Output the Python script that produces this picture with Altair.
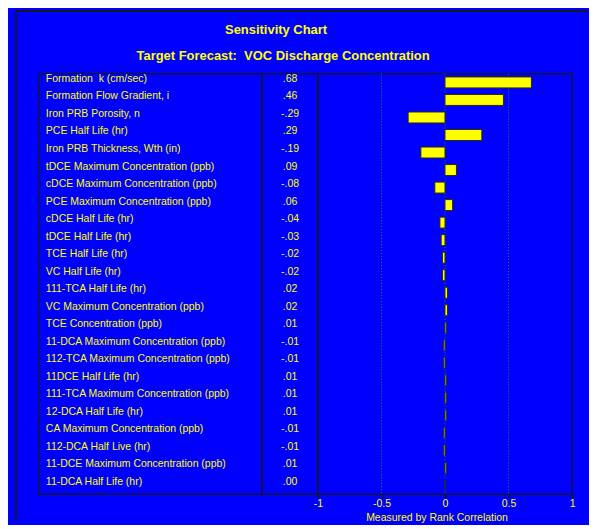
import altair as alt
import pandas as pd

FONT = "Liberation Sans, Arial, sans-serif"
YELLOW = "#FFFF00"
FRAME = "#15152a"
GREEN = "#1f8a2a"
BLUE = "#0000FF"
NB = "\u00a0"

title_text = "Sensitivity Chart"
subtitle_text = "Target Forecast:" + NB + " VOC Discharge Concentration"
x_title = "Measured by Rank Correlation"

labels = [
    "Formation" + NB + " k (cm/sec)",
    "Formation Flow Gradient, i",
    "Iron PRB Porosity, n",
    "PCE Half Life (hr)",
    "Iron PRB Thickness, Wth (in)",
    "tDCE Maximum Concentration (ppb)",
    "cDCE Maximum Concentration (ppb)",
    "PCE Maximum Concentration (ppb)",
    "cDCE Half Life (hr)",
    "tDCE Half Life (hr)",
    "TCE Half Life (hr)",
    "VC Half Life (hr)",
    "111-TCA Half Life (hr)",
    "VC Maximum Concentration (ppb)",
    "TCE Concentration (ppb)",
    "11-DCA Maximum Concentration (ppb)",
    "112-TCA Maximum Concentration (ppb)",
    "11DCE Half Life (hr)",
    "111-TCA Maximum Concentration (ppb)",
    "12-DCA Half Life (hr)",
    "CA Maximum Concentration (ppb)",
    "112-DCA Half Live (hr)",
    "11-DCE Maximum Concentration (ppb)",
    "11-DCA Half Life (hr)",
]
values = [0.68, 0.46, -0.29, 0.29, -0.19, 0.09, -0.08, 0.06, -0.04, -0.03,
          -0.02, -0.02, 0.02, 0.02, 0.01, -0.01, -0.01, 0.01, 0.01, 0.01,
          -0.01, -0.01, 0.01, 0.00]
tick_values = [-1, -0.5, 0, 0.5, 1]
grid_values = [-0.5, 0, 0.5]


def fmt(v):
    s = f"{v:.2f}"
    return s.replace("0.", ".", 1)


df = pd.DataFrame({"label": labels, "value": values,
                   "value_text": [fmt(v) for v in values]})

yenc = alt.Y("label:N", sort=labels,
             scale=alt.Scale(paddingInner=0, paddingOuter=0), axis=None)

one = pd.DataFrame({"k": [0]})

frame_v = alt.Chart(one).mark_rule(color=FRAME, strokeWidth=2).encode(
    x=alt.value(-23), y=alt.value(-63), y2=alt.value(449))
frame_h = alt.Chart(one).mark_rule(color=FRAME, strokeWidth=2).encode(
    x=alt.value(-23), x2=alt.value(550), y=alt.value(-63))

t1 = alt.Chart(pd.DataFrame({"t": [title_text]})).mark_text(
    font=FONT, fontSize=13, fontWeight="bold", color=YELLOW,
    align="center", baseline="alphabetic").encode(
    text="t:N", x=alt.value(238), y=alt.value(-39.5))
t2 = alt.Chart(pd.DataFrame({"t": [subtitle_text]})).mark_text(
    font=FONT, fontSize=13, fontWeight="bold", color=YELLOW,
    align="center", baseline="alphabetic").encode(
    text="t:N", x=alt.value(245), y=alt.value(-13.5))

label_text = alt.Chart(df).mark_text(
    font=FONT, fontSize=10.5, color=YELLOW, align="left",
    baseline="alphabetic", dy=-0.5).encode(
    y=yenc, x=alt.value(7), text="label:N")

label_panel = alt.layer(frame_v, frame_h, t1, t2, label_text).properties(
    width=224, height=422)

value_panel = alt.Chart(df).mark_text(
    font=FONT, fontSize=10.5, color=YELLOW, align="center",
    baseline="alphabetic", dy=-0.5).encode(
    y=yenc, x=alt.value(28), text="value_text:N").properties(
    width=56, height=422)

xscale = alt.Scale(domain=[-1, 1], nice=False, zero=False)
xaxis = alt.Axis(values=tick_values, labelExpr="'' + datum.value",
                 grid=False, domain=False, ticks=True, tickSize=4,
                 tickColor=FRAME, tickWidth=1.5,
                 labelColor=YELLOW, labelFont=FONT, labelFontSize=10.5,
                 labelPadding=0, labelFlush=False, labelOverlap=False,
                 title=x_title, titleColor=YELLOW, titleFont=FONT,
                 titleFontSize=10.5, titleFontWeight="normal",
                 titleX=119, titleY=26, titleAlign="center",
                 titleBaseline="alphabetic", titleAnchor="start")

grid = alt.Chart(pd.DataFrame({"g": grid_values})).mark_rule(
    color=GREEN, strokeDash=[1, 2], strokeWidth=1).encode(
    x=alt.X("g:Q", scale=xscale, axis=xaxis))

bars = alt.Chart(df).mark_bar(
    height=11, color=YELLOW, stroke="#2a2a10", strokeWidth=1).encode(
    x=alt.X("value:Q", scale=xscale, axis=xaxis), y=yenc)

plot_panel = alt.layer(grid, bars).properties(width=255, height=422)

chart = alt.hconcat(label_panel, value_panel, plot_panel,
                    spacing=0, bounds="flush").properties(
    background=BLUE,
    padding={"left": 6, "top": 0, "right": 0, "bottom": 0},
).configure_view(stroke=FRAME, strokeWidth=1.5)

chart.save("out.html", embed_options={"renderer": "svg", "actions": False})
